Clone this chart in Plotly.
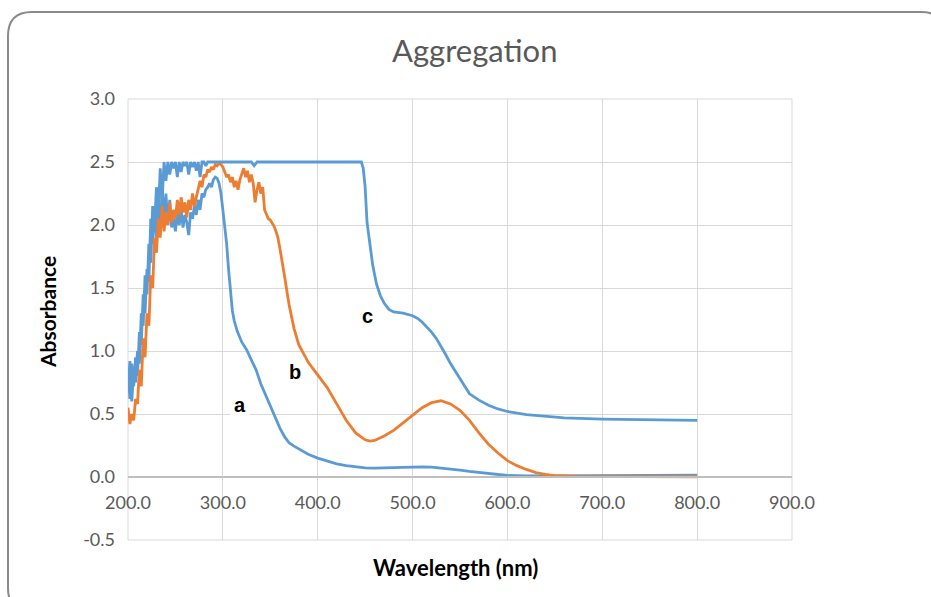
import plotly.graph_objects as go

# ---------------- data ----------------
# curve a (blue)
wl_a = [200, 202, 204, 206, 208, 210, 212, 214, 216, 218, 220, 222, 224, 226, 228, 230,
        232, 234, 236, 238, 240, 242, 244, 246, 248, 250, 252, 254, 256, 258, 260, 262,
        264, 266, 268, 270, 272, 274, 276, 278, 280, 282, 284, 286, 288, 290, 292, 294,
        296, 298, 300, 302, 304, 306, 308, 310, 312, 315, 320, 325, 330, 335, 340, 345,
        350, 355, 360, 365, 370, 375, 380, 390, 400, 410, 420, 430, 440, 450, 460, 470,
        480, 490, 500, 510, 520, 530, 540, 550, 560, 570, 580, 590, 600, 620, 650, 700,
        750, 800]
abs_a = [0.85, 0.62, 0.90, 0.72, 0.95, 0.80, 1.15, 1.05, 1.45, 1.30, 1.65, 1.55, 2.05, 1.85, 2.15, 1.90,
         2.20, 1.95, 2.30, 2.05, 2.25, 2.00, 2.20, 1.98, 2.05, 1.95, 2.10, 2.00, 2.12, 1.98, 2.08, 2.02,
         1.92, 2.10, 2.05, 2.15, 2.08, 2.20, 2.12, 2.25, 2.22, 2.28, 2.30, 2.33, 2.30, 2.36, 2.38, 2.37,
         2.33, 2.25, 2.12, 1.98, 1.85, 1.65, 1.45, 1.32, 1.24, 1.16, 1.07, 1.01, 0.93, 0.85, 0.74, 0.65,
         0.56, 0.47, 0.39, 0.32, 0.27, 0.245, 0.225, 0.18, 0.15, 0.125, 0.105, 0.09, 0.08, 0.072, 0.07, 0.072,
         0.075, 0.078, 0.08, 0.08, 0.078, 0.072, 0.065, 0.055, 0.045, 0.038, 0.03, 0.02, 0.012, 0.008, 0.008, 0.01,
         0.012, 0.015]

# curve b (orange)
wl_b = [200, 202, 204, 206, 208, 210, 212, 214, 216, 218, 220, 222, 224, 226, 228, 230,
        232, 234, 236, 238, 240, 242, 244, 246, 248, 250, 252, 254, 256, 258, 260, 262,
        264, 266, 268, 270, 272, 274, 276, 278, 280, 282, 284, 286, 288, 290, 292, 294,
        296, 298, 300, 302, 304, 306, 308, 310, 312, 314, 316, 318, 320, 322, 324, 326,
        328, 330, 332, 334, 336, 338, 340, 342, 344, 346, 348, 350, 352, 354, 356, 358,
        360, 362, 364, 366, 368, 370, 375, 380, 385, 390, 395, 400, 410, 420, 430, 440,
        450, 455, 460, 470, 480, 490, 500, 510, 520, 530, 540, 550, 560, 570, 580, 590,
        600, 610, 620, 630, 640, 650, 670, 700, 750, 800]
abs_b = [0.55, 0.42, 0.50, 0.45, 0.62, 0.58, 0.85, 0.72, 1.10, 0.95, 1.30, 1.20, 1.60, 1.50, 1.90, 1.78,
         2.05, 1.90, 2.15, 1.95, 2.10, 2.00, 2.18, 2.02, 2.12, 2.05, 2.20, 2.08, 2.22, 2.10, 2.18, 2.06,
         2.20, 2.12, 2.25, 2.15, 2.22, 2.28, 2.35, 2.30, 2.40, 2.38, 2.44, 2.42, 2.46, 2.44, 2.48, 2.47,
         2.49, 2.48, 2.46, 2.42, 2.38, 2.40, 2.34, 2.38, 2.30, 2.35, 2.28, 2.36, 2.40, 2.45, 2.38, 2.43,
         2.34, 2.40, 2.33, 2.18, 2.28, 2.34, 2.25, 2.30, 2.12, 2.08, 2.05, 2.04, 2.02, 1.99, 1.95, 1.90,
         1.82, 1.74, 1.64, 1.55, 1.45, 1.36, 1.18, 1.05, 0.98, 0.91, 0.86, 0.81, 0.71, 0.58, 0.45, 0.35,
         0.295, 0.285, 0.29, 0.325, 0.37, 0.43, 0.49, 0.55, 0.59, 0.605, 0.58, 0.53, 0.45, 0.35, 0.26, 0.19,
         0.13, 0.09, 0.06, 0.035, 0.02, 0.01, 0.005, 0.003, 0.003, 0.002]

# curve c (blue)
wl_c = [200, 202, 204, 206, 208, 210, 212, 214, 216, 218, 220, 222, 224, 226, 228, 230,
        232, 234, 236, 238, 240, 242, 244, 246, 248, 250, 252, 254, 256, 258, 260, 262,
        264, 266, 268, 270, 272, 274, 276, 278, 280, 282, 284, 286, 288, 290, 300, 330,
        333, 336, 340, 446, 448, 450, 452, 455, 458, 462, 466, 470, 475, 480, 490, 500,
        505, 510, 515, 520, 525, 530, 535, 540, 545, 550, 555, 560, 570, 580, 590, 600,
        620, 640, 660, 700, 750, 800]
abs_c = [0.70, 0.92, 0.60, 0.85, 0.75, 1.00, 0.90, 1.30, 1.20, 1.60, 1.45, 1.85, 1.70, 2.15, 2.00, 2.30,
         2.10, 2.45, 2.20, 2.50, 2.35, 2.50, 2.40, 2.50, 2.45, 2.50, 2.38, 2.50, 2.42, 2.50, 2.47, 2.50,
         2.40, 2.50, 2.46, 2.50, 2.43, 2.50, 2.38, 2.50, 2.50, 2.47, 2.50, 2.50, 2.50, 2.50, 2.50, 2.50,
         2.47, 2.50, 2.50, 2.50, 2.45, 2.30, 2.02, 1.86, 1.68, 1.53, 1.44, 1.38, 1.33, 1.31, 1.30, 1.28,
         1.26, 1.23, 1.19, 1.15, 1.10, 1.04, 0.97, 0.90, 0.84, 0.77, 0.71, 0.66, 0.61, 0.57, 0.54, 0.52,
         0.495, 0.48, 0.47, 0.46, 0.455, 0.45]

curve_labels = ["a", "b", "c"]
label_x = [318, 376, 453]
label_y = [0.57, 0.83, 1.28]

x_ticks = [200, 300, 400, 500, 600, 700, 800, 900]
y_ticks = [-0.5, 0.0, 0.5, 1.0, 1.5, 2.0, 2.5, 3.0]

BLUE = "#5B9BD5"
ORANGE = "#ED7D31"
FONT = "Lato, Roboto, Liberation Sans, sans-serif"

fig = go.Figure()
fig.add_trace(go.Scatter(x=wl_a, y=abs_a, mode="lines", line=dict(color=BLUE, width=2.8), name="a"))
fig.add_trace(go.Scatter(x=wl_b, y=abs_b, mode="lines", line=dict(color=ORANGE, width=2.8), name="b"))
fig.add_trace(go.Scatter(x=wl_c, y=abs_c, mode="lines", line=dict(color=BLUE, width=2.8), name="c"))

for t, xx, yy in zip(curve_labels, label_x, label_y):
    fig.add_annotation(x=xx, y=yy, text="<b>%s</b>" % t, showarrow=False,
                       font=dict(family="Liberation Sans, Arial", size=20, color="black"),
                       bgcolor="white", borderpad=3)

W, H = 931, 597
L, R, T, B = 128, 139, 99, 57
pw, ph = W - L - R, H - T - B


def px(xp, yp):
    return (xp - L) / pw, (H - B - yp) / ph


# rounded frame around the chart
x0, y0, x1, y1, r = 8, 12, 945, 612, 24
pts = {
    "a": px(x0 + r, y0), "b": px(x1 - r, y0), "c": px(x1, y0), "d": px(x1, y0 + r),
    "e": px(x1, y1 - r), "f": px(x1, y1), "g": px(x1 - r, y1), "h": px(x0 + r, y1),
    "i": px(x0, y1), "j": px(x0, y1 - r), "k": px(x0, y0 + r), "l": px(x0, y0),
}


def f(p):
    return "%.5f,%.5f" % p


path = ("M %s L %s Q %s %s L %s Q %s %s L %s Q %s %s L %s Q %s %s Z" % (
    f(pts["a"]), f(pts["b"]), f(pts["c"]), f(pts["d"]), f(pts["e"]), f(pts["f"]), f(pts["g"]),
    f(pts["h"]), f(pts["i"]), f(pts["j"]), f(pts["k"]), f(pts["l"]), f(pts["a"])))
fig.add_shape(type="path", path=path, xref="paper", yref="paper",
              line=dict(color="#8a8a8a", width=2), layer="below")
# plot area border (grid box)
fig.add_shape(type="rect", x0=0, x1=1, y0=0, y1=1, xref="paper", yref="paper",
              line=dict(color="#d9d9d9", width=1), layer="below")

fig.update_layout(
    width=W, height=H,
    margin=dict(l=L, r=R, t=T, b=B),
    paper_bgcolor="white", plot_bgcolor="white",
    showlegend=False,
    xaxis=dict(range=[200, 900], tickvals=x_ticks, ticktext=["%.1f" % v for v in x_ticks],
               showgrid=True, gridcolor="#d9d9d9", gridwidth=1,
               anchor="free", position=0.5 / 3.5,
               showline=True, linecolor="#bfbfbf", linewidth=1.5,
               ticks="", zeroline=False, ticklabelstandoff=10,
               tickfont=dict(family=FONT, size=18, color="#595959")),
    yaxis=dict(range=[-0.5, 3.0], tickvals=y_ticks, ticktext=["%.1f" % v for v in y_ticks],
               showgrid=True, gridcolor="#d9d9d9", gridwidth=1,
               zeroline=False, showline=False, ticks="", ticklabelstandoff=12,
               tickfont=dict(family=FONT, size=18, color="#595959")),
)

fig.add_annotation(text="Aggregation", xref="paper", yref="paper",
                   x=px(474, 0)[0], y=px(0, 50)[1], showarrow=False,
                   xanchor="center", yanchor="middle",
                   font=dict(family=FONT, size=31, color="#595959"))
fig.add_annotation(text="<b>Wavelength (nm)</b>", xref="paper", yref="paper",
                   x=px(455, 0)[0], y=px(0, 567)[1], showarrow=False,
                   xanchor="center", yanchor="middle",
                   font=dict(family=FONT, size=22, color="black"))
fig.add_annotation(text="<b>Absorbance</b>", xref="paper", yref="paper",
                   x=px(47, 0)[0], y=px(0, 312)[1], showarrow=False, textangle=-90,
                   xanchor="center", yanchor="middle",
                   font=dict(family=FONT, size=21, color="black"))

fig.write_html("out.html")
